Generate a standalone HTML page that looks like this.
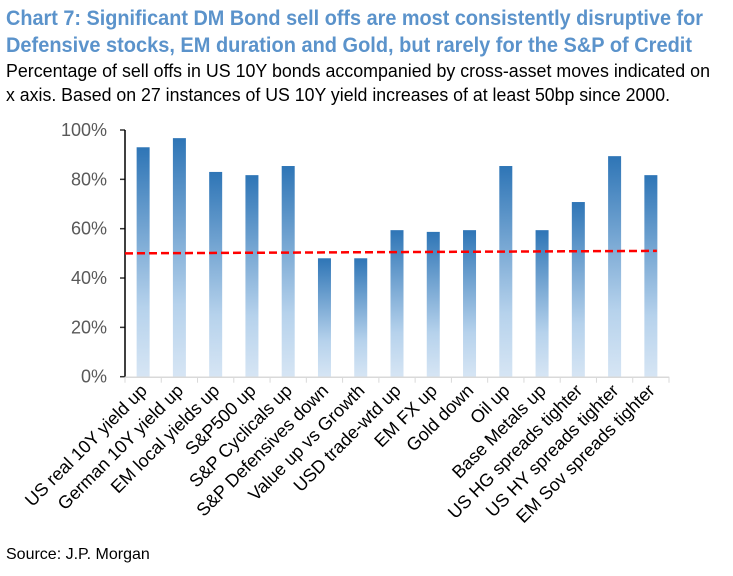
<!DOCTYPE html>
<html><head><meta charset="utf-8"><style>
body{margin:0;background:#fff;}
svg{display:block;font-family:"Liberation Sans Narrow","Liberation Sans",sans-serif;}
</style></head><body>
<svg width="733" height="576">
<defs><linearGradient id="g" x1="0" y1="0" x2="0" y2="1">
<stop offset="0" stop-color="#2e75b6"/><stop offset="0.7" stop-color="#b6d2ec"/><stop offset="1" stop-color="#d6e5f4"/></linearGradient></defs>
<text x="6" y="25" font-size="21" font-weight="bold" fill="#5b93cb" textLength="697" lengthAdjust="spacingAndGlyphs">Chart 7: Significant DM Bond sell offs are most consistently disruptive for</text>
<text x="6" y="52" font-size="21" font-weight="bold" fill="#5b93cb" textLength="686" lengthAdjust="spacingAndGlyphs">Defensive stocks, EM duration and Gold, but rarely for the S&amp;P of Credit</text>
<text x="6" y="77" font-size="18" fill="#000" textLength="704" lengthAdjust="spacingAndGlyphs">Percentage of sell offs in US 10Y bonds accompanied by cross-asset moves indicated on</text>
<text x="6" y="101" font-size="18" fill="#000" textLength="664" lengthAdjust="spacingAndGlyphs">x axis. Based on 27 instances of US 10Y yield increases of at least 50bp since 2000.</text>
<g id="plot"></g>
<text x="6" y="559" font-size="16" fill="#000">Source: J.P. Morgan</text>
</svg>
<script>
const categories=["US real 10Y yield up","German 10Y yield up","EM local yields up","S&P500 up","S&P Cyclicals up","S&P Defensives down","Value up vs Growth","USD trade-wtd up","EM FX up","Gold down","Oil up","Base Metals up","US HG spreads tighter","US HY spreads tighter","EM Sov spreads tighter"];
const values=[93,96.7,83,81.7,85.4,48,48,59.4,58.7,59.4,85.4,59.4,70.8,89.4,81.7];
const avgLine=[50,51];
const yTicks=[0,20,40,60,80,100];
const NS="http://www.w3.org/2000/svg";
const g=document.getElementById('plot');
const x0=125,x1=669,y0=376.7,y100=130;
const bw=(x1-x0)/categories.length;
const yS=v=>y0-(y0-y100)*v/100;
const xC=i=>x0+bw*(i+0.5);
function mk(t,a){const e=document.createElementNS(NS,t);for(const k in a)e.setAttribute(k,a[k]);g.appendChild(e);return e;}
yTicks.forEach(t=>{
 const l=mk('line',{x1:x0-5,x2:x0,y1:yS(t),y2:yS(t),stroke:'#333','stroke-width':1.5});
 
 
 const tx=mk('text',{x:x0-18,y:yS(t)+6,'text-anchor':'end','font-size':18,fill:'#595959'});
 tx.textContent=t+'%';
 
 
});
values.forEach((v,i)=>{
 const r=mk('rect',{x:xC(i)-6.5,y:yS(v),width:13,height:y0-yS(v),fill:'url(#g)'});
 
 
});
const ya=mk('line',{x1:x0,x2:x0,y1:y100,y2:y0,stroke:'#000','stroke-width':1.5});


const xa=mk('line',{x1:x0,x2:x1,y1:y0+0.5,y2:y0+0.5,stroke:'#d9d9d9','stroke-width':1.5});


for(let i=0;i<=categories.length;i++){
 const t=mk('line',{x1:x0+bw*i,x2:x0+bw*i,y1:y0,y2:y0+6,stroke:'#d9d9d9','stroke-width':1});
 
 
}
categories.forEach((c,i)=>{
 const x=xC(i)+5,y=y0+15;
 const t=mk('text',{x:x,y:y,'text-anchor':'end','font-size':18,fill:'#000',transform:`rotate(-45 ${x} ${y})`});
 t.textContent=c;
 
 
});
const av=mk('line',{x1:x0,x2:xC(categories.length-1)+6,y1:yS(avgLine[0]),y2:yS(avgLine[1]),stroke:'#ff0000','stroke-width':2.5,'stroke-dasharray':'8 4'});


</script>
</body></html>
